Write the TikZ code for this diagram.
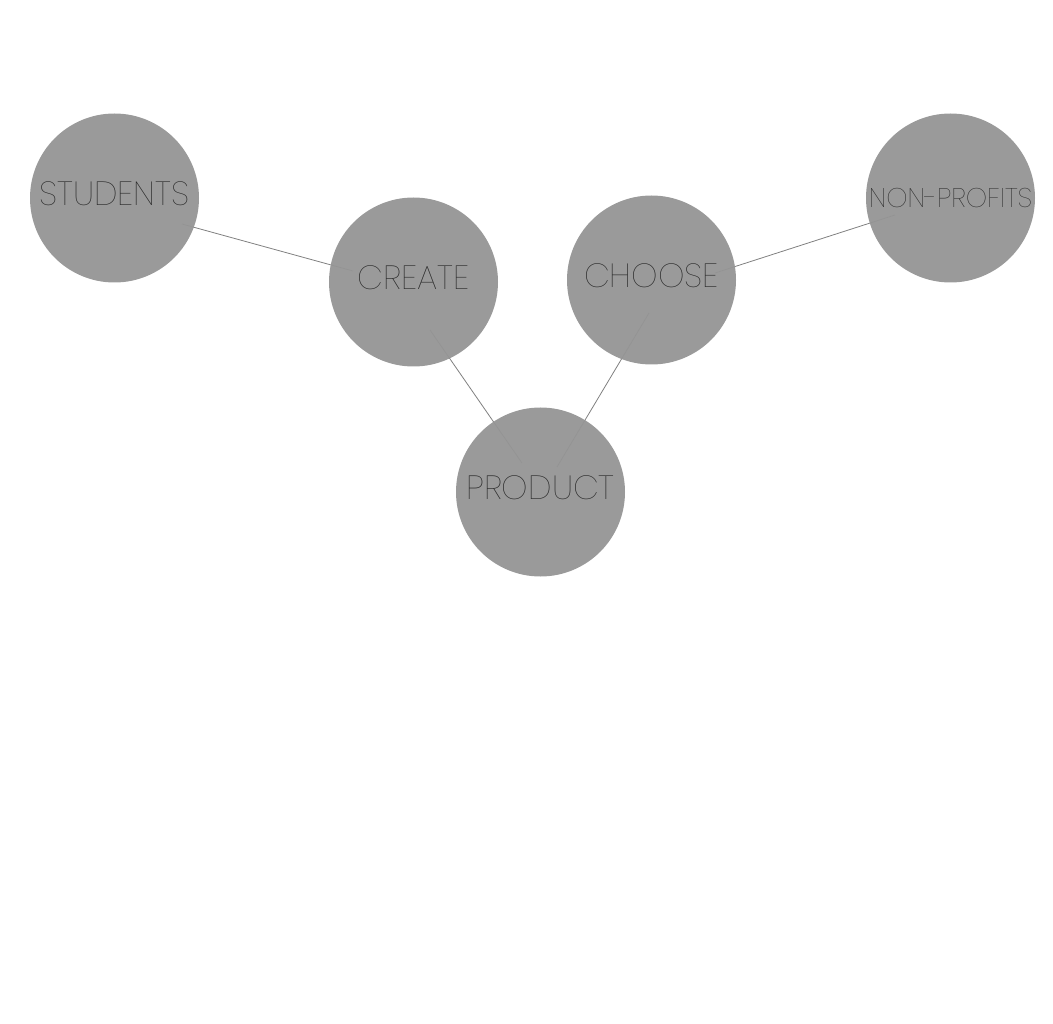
\documentclass[tikz,border=0pt]{standalone}
\usepackage{fontspec}
\setmainfont{Poppins Thin}
\usetikzlibrary{positioning}

\definecolor{bolla}{HTML}{959595}
\definecolor{testo}{HTML}{262626}
\definecolor{filo}{HTML}{808080}

\tikzset{
    cerchio/.style={circle, fill=bolla, fill opacity=0.95, text opacity=1,
                    minimum size=169pt, inner sep=0pt, text depth=8pt,
                    text=testo, font=\fontsize{33.5}{33.5}\selectfont},
    filo/.style={draw=filo, line width=0.8pt}
}

\begin{document}
\begin{tikzpicture}[x=1pt, y=-1pt]

    % -- Margini della figura --
    \useasboundingbox (0,0) rectangle (1053,1024);

    % -- Centri delle bolle --
    \coordinate (c-studenti) at (114.5,198);
    \coordinate (c-crea)     at (413.5,282);
    \coordinate (c-scegli)   at (651.5,280);
    \coordinate (c-noprofit) at (950.5,198);
    \coordinate (c-prodotto) at (540.5,492);

    % -- Collegamenti, che entrano un poco nelle bolle --
    \draw[filo] ([shift={(67.5,26)}]c-studenti) -- ([shift={(-60.5,-11)}]c-crea);
    \draw[filo] ([shift={(16.5,48)}]c-crea) -- ([shift={(-18.5,-29)}]c-prodotto);
    \draw[filo] ([shift={(-2.5,33)}]c-scegli) -- ([shift={(16.5,-25)}]c-prodotto);
    \draw[filo] ([shift={(63.5,-7)}]c-scegli) -- ([shift={(-55.5,17)}]c-noprofit);

    % -- Le cinque bolle, sopra i fili --
    \node[cerchio] (studenti) at (c-studenti) {STUDENTS};
    \node[cerchio] (crea)     at (c-crea)     {CREATE};
    \node[cerchio] (scegli)   at (c-scegli)   {CHOOSE};
    \node[cerchio, text depth=0pt, font=\fontsize{27}{27}\selectfont]
        (noprofit) at (c-noprofit) {NON-PROFITS};
    \node[cerchio] (prodotto) at (c-prodotto) {PRODUCT};

\end{tikzpicture}
\end{document}
